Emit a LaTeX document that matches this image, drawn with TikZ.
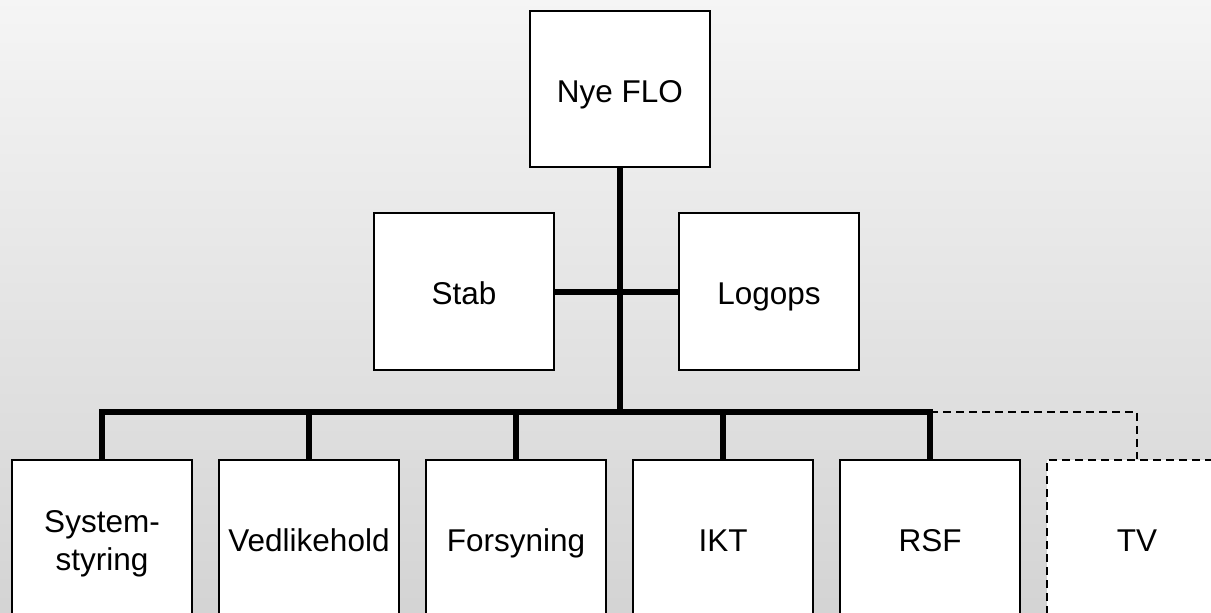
\documentclass[tikz,border=0pt]{standalone}
\usepackage{fontspec}
\setmainfont{Liberation Sans}
\usetikzlibrary{positioning}

\begin{document}
\begin{tikzpicture}[
    x=1pt, y=-1pt,
    node distance=25pt,
    every node/.style={font=\fontsize{31.5}{38}\selectfont},
    block/.style={rectangle, draw, line width=2pt, fill=white, minimum width=180pt, minimum height=157pt, align=center, inner sep=0pt, text height=29pt, text depth=3pt},
    dashblock/.style={block, dashed, dash pattern=on 8pt off 5pt, line width=2.2pt},
    trunk/.style={line width=6pt},
    dashlink/.style={line width=2.2pt, dash pattern=on 8pt off 5pt}
]

%% ---- Background ----
\useasboundingbox (0,0) rectangle (1211,613);
\clip (0,0) rectangle (1211,613);
\shade[top color=black!4, bottom color=black!17] (0,0) rectangle (1211,613);

%% ---- Top level ----
\node[block, minimum height=156pt] (nye) at (620,89) {Nye FLO};

%% ---- Staff level ----
\node[block] (stab) at (464,291.5) {Stab};
\node[block] (logops) at (769,291.5) {Logops};

%% ---- Units ----
\node[block, text height=67pt] (sys) at (102,538.5) {System-\\styring};
\node[block, right=of sys] (ved) {Vedlikehold};
\node[block, right=of ved] (for) {Forsyning};
\node[block, right=of for] (ikt) {IKT};
\node[block, right=of ikt] (rsf) {RSF};
\node[dashblock, right=of rsf] (tv) {TV};

\coordinate (bus) at (620,412);

%% ---- Lines ----
\draw[trunk] (nye) -- (bus);
\draw[trunk] (stab) -- (logops);
\draw[trunk] (sys.north) |- (bus) -| (rsf.north);
\foreach \n in {ved,for,ikt}
    \draw[trunk] (\n.north) -- (\n.north |- bus);
\draw[dashlink] (rsf.north |- bus) -| (tv.north);

\end{tikzpicture}
\end{document}
